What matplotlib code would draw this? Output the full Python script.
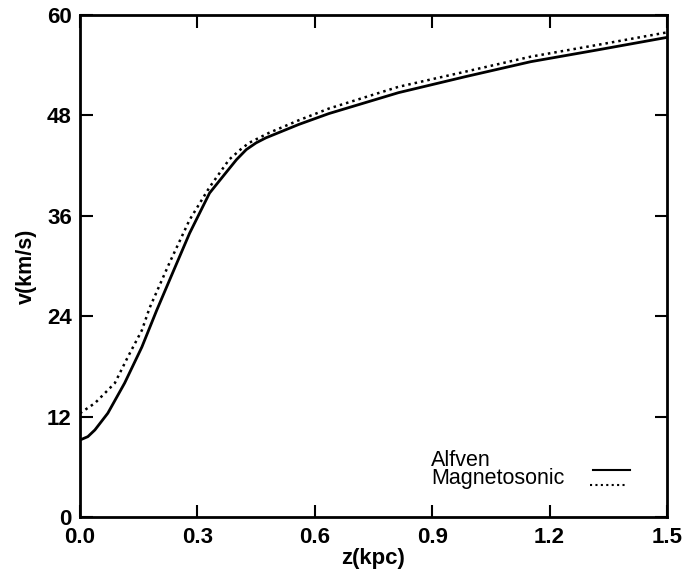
import numpy as np
import matplotlib.pyplot as plt

plt.rcParams['font.family'] = ['Liberation Sans', 'DejaVu Sans']

# Valores
z_alfven = [0.0, 0.02, 0.038, 0.071, 0.114, 0.158, 0.196, 0.237, 0.28, 0.331,
            0.374, 0.40, 0.425, 0.45, 0.475, 0.559, 0.636, 0.814, 0.984, 1.152,
            1.322, 1.5]
v_alfven = [9.2, 9.6, 10.4, 12.4, 16.0, 20.3, 24.7, 29.2, 33.9, 38.7,
            41.2, 42.7, 43.9, 44.7, 45.3, 46.9, 48.2, 50.7, 52.6, 54.4,
            55.8, 57.3]

z_magneto = [0.0, 0.038, 0.089, 0.122, 0.158, 0.178, 0.229, 0.28, 0.331, 0.381,
             0.41, 0.432, 0.483, 0.559, 0.636, 0.814, 0.984, 1.152, 1.322, 1.5]
v_magneto = [12.4, 13.6, 16.0, 19.1, 22.3, 25.0, 30.4, 35.5, 39.4, 42.7,
             43.9, 44.7, 45.9, 47.4, 48.8, 51.4, 53.2, 55.0, 56.4, 57.9]

xticks = [0.0, 0.3, 0.6, 0.9, 1.2, 1.5]
yticks = [0, 12, 24, 36, 48, 60]

fig = plt.figure(figsize=(6.84, 5.7), dpi=100)
ax = fig.add_axes([0.117, 0.093, 0.858, 0.881])

ax.plot(z_alfven, v_alfven, color='black', lw=2.0)
ax.plot(z_magneto, v_magneto, color='black', lw=1.8, linestyle=(0, (1, 1.6)))

ax.set_xlim(0, 1.5)
ax.set_ylim(0, 60)
ax.set_xticks(xticks)
ax.set_yticks(yticks)
ax.set_xticklabels(['%.1f' % t for t in xticks], fontsize=16, fontweight='bold')
ax.set_yticklabels([str(t) for t in yticks], fontsize=16, fontweight='bold')
ax.tick_params(direction='in', length=9, width=1.5, top=True, right=True)
ax.tick_params(axis='x', pad=7)
ax.tick_params(axis='y', pad=6)
for s in ax.spines.values():
    s.set_linewidth(2)

ax.set_xlabel('z(kpc)', fontsize=16, fontweight='bold', labelpad=0)
ax.set_ylabel('v(km/s)', fontsize=15.5, fontweight='bold', labelpad=7)

# Legenda manual (texto à esquerda, amostra à direita)
ax.text(0.598, 0.095, 'Alfven\nMagnetosonic', transform=ax.transAxes, fontsize=15.5,
        va='center', ha='left', multialignment='left', linespacing=0.8)
ax.plot([0.874, 0.937], [0.094, 0.094], transform=ax.transAxes, color='black', lw=1.5)
ax.plot([0.869, 0.932], [0.064, 0.064], transform=ax.transAxes, color='black', lw=1.5,
        linestyle=(0, (1, 1.6)))

fig.savefig('out.png', dpi=100)
